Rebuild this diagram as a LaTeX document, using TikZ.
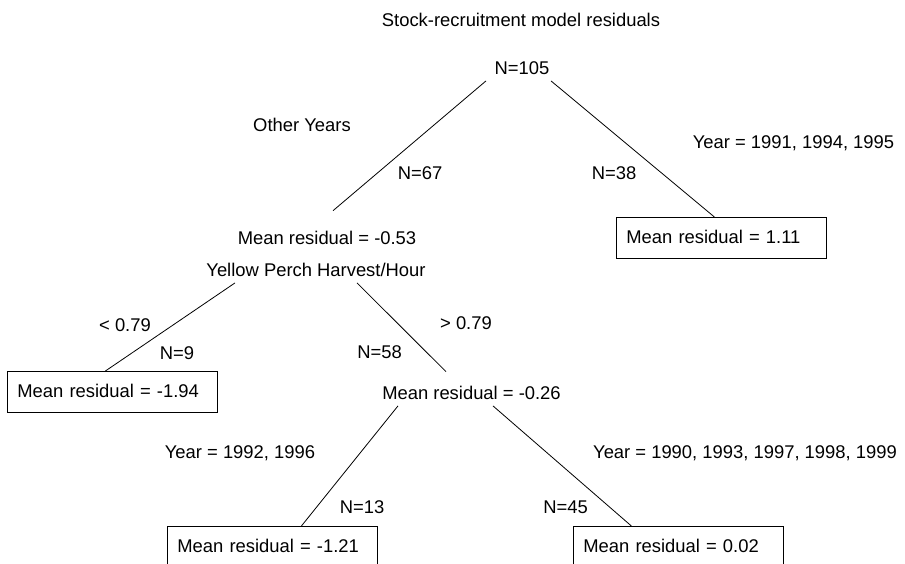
\documentclass[tikz,border=0pt]{standalone}
\usepackage{fontspec}
\setmainfont{Liberation Sans}
\begin{document}
\begin{tikzpicture}[x=1pt,y=-1pt,line width=0.8pt]
	\tikzstyle{lbl}=[anchor=base,inner sep=2pt,text height=13pt,text depth=4pt,font=\fontsize{18.4pt}{22pt}\selectfont]
	\tikzstyle{leaf}=[lbl,draw,anchor=north west,inner xsep=10pt,inner ysep=0pt,text width=190pt,minimum height=41pt,align=left,text depth=2pt]
	\useasboundingbox (0,0) rectangle (905,563);
	\clip (0,0) rectangle (905,563);
	\node[lbl] (title) at (521,26.5) {Stock-recruitment model residuals};
	\node[lbl] (root) at (522,74.5) {N=105};
	\node[lbl] (other) at (302,131.5) {Other Years};
	\node[lbl] (yr1) at (793.5,148.5) {Year = 1991, 1994, 1995};
	\node[lbl] (n67) at (420,179.5) {N=67};
	\node[lbl] (n38) at (614,179.5) {N=38};
	\node[lbl] (m53) at (327,244.5) {Mean residual = -0.53};
	\node[lbl] (yph) at (316,276.5) {Yellow Perch Harvest/Hour};
	\node[leaf] (r111) at (616,217) {Mean residual = 1.11};
	\node[lbl] (lt) at (125,331.5) {< 0.79};
	\node[lbl] (n9) at (177,359.5) {N=9};
	\node[lbl] (gt) at (466,329.5) {> 0.79};
	\node[lbl] (n58) at (379.5,358.5) {N=58};
	\node[leaf] (l194) at (7,371) {Mean residual = -1.94};
	\node[lbl] (m26) at (471.5,399.5) {Mean residual = -0.26};
	\node[lbl] (yr2) at (240,458.5) {Year = 1992, 1996};
	\node[lbl] (yr3) at (745,458.5) {Year = 1990, 1993, 1997, 1998, 1999};
	\node[lbl] (n13) at (362,513.5) {N=13};
	\node[lbl] (n45) at (565.5,513.5) {N=45};
	\node[leaf] (l121) at (167,526) {Mean residual = -1.21};
	\node[leaf] (l002) at (573,526) {Mean residual = 0.02};
	\draw[shorten >=28.5pt] ([xshift=-36pt]root.south) -- ([xshift=-15.7pt]m53.north);
	\draw ([xshift=29pt]root.south) -- ([xshift=-7pt]r111.north);
	\draw ([xshift=-81pt]yph.south) -- ([xshift=-7pt]l194.north);
	\draw[shorten >=17.7pt] ([xshift=41pt]yph.south) -- ([xshift=-13pt]m26.north);
	\draw ([xshift=-73.5pt]m26.south) -- ([xshift=29pt]l121.north);
	\draw ([xshift=21.5pt]m26.south) -- ([xshift=-47pt]l002.north);
\end{tikzpicture}
\end{document}
